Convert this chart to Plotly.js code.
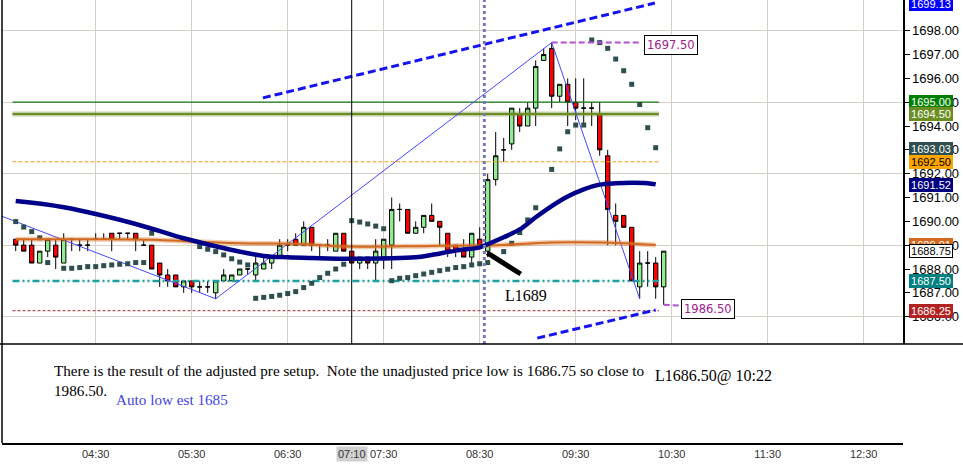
<!DOCTYPE html>
<html>
<head>
<meta charset="utf-8">
<script src="https://cdn.plot.ly/plotly-3.0.1.min.js"></script>
<style>html,body{margin:0;padding:0;background:#fff;}#chart{width:963px;height:469px;}</style>
</head>
<body>
<div id="chart"></div>
<script>
// ---------- data ----------
const DAY = '2013-06-10 ';
const barTimes = ['03:40','03:45','03:50','03:55','04:00','04:05','04:10','04:15','04:20','04:25',
  '04:30','04:35','04:40','04:45','04:50','04:55','05:00','05:05','05:10','05:15',
  '05:20','05:25','05:30','05:35','05:40','05:45','05:50','05:55','06:00','06:05',
  '06:10','06:15','06:20','06:25','06:30','06:35','06:40','06:45','06:50','06:55',
  '07:00','07:05','07:10','07:15','07:20','07:25','07:30','07:35','07:40','07:45',
  '07:50','07:55','08:00','08:05','08:10','08:15','08:20','08:25','08:30','08:35',
  '08:40','08:45','08:50','08:55','09:00','09:05','09:10','09:15','09:20','09:25',
  '09:30','09:35','09:40','09:45','09:50','09:55','10:00','10:05','10:10','10:15',
  '10:20','10:25'];
const openP = [1689.25,1689.0,1689.0,1688.25,1688.75,1689.0,1688.25,1689.25,1689.0,1689.0,
  1689.25,1689.25,1689.5,1689.5,1689.5,1689.5,1689.0,1689.0,1688.25,1687.75,
  1687.75,1687.25,1687.5,1687.25,1687.25,1687.0,1687.5,1687.5,1687.75,1688.0,
  1687.75,1688.0,1688.25,1688.5,1689.0,1689.25,1689.0,1689.75,1689.0,1689.0,
  1688.75,1689.5,1688.75,1688.25,1688.5,1688.25,1688.5,1689.0,1690.5,1690.5,
  1689.5,1689.75,1690.25,1690.0,1689.5,1689.0,1688.75,1688.5,1689.25,1688.75,
  1691.75,1693.0,1693.25,1694.5,1694.0,1694.75,1696.75,1697.25,1695.25,1695.75,
  1695.0,1694.75,1694.75,1694.5,1692.75,1690.25,1690.25,1689.75,1687.25,1688.25,
  1688.25,1687.25];
const highP = [1689.25,1689.25,1689.25,1688.75,1689.25,1689.25,1689.5,1689.25,1689.25,1689.25,
  1689.5,1689.5,1689.5,1689.5,1689.5,1689.5,1689.25,1689.0,1688.25,1688.0,
  1687.75,1687.5,1687.5,1687.5,1687.5,1687.5,1688.0,1687.75,1688.0,1688.0,
  1688.5,1688.5,1688.5,1689.25,1689.25,1689.5,1690.0,1689.75,1689.0,1689.25,
  1689.5,1689.5,1688.75,1688.5,1688.5,1689.25,1689.25,1691.0,1690.75,1690.5,
  1690.0,1690.25,1690.75,1690.0,1689.5,1689.0,1689.25,1689.5,1689.75,1692.0,
  1693.75,1693.5,1694.75,1694.75,1695.0,1696.75,1697.25,1697.5,1695.75,1696.0,
  1696.0,1696.0,1695.0,1695.0,1693.0,1690.75,1690.25,1689.75,1688.75,1688.75,
  1688.5,1688.75];
const lowP = [1688.75,1688.75,1688.25,1688.25,1688.5,1688.0,1688.25,1688.75,1688.75,1688.75,
  1689.25,1689.25,1688.75,1689.25,1689.25,1688.75,1689.0,1688.0,1687.25,1687.25,
  1687.25,1687.0,1687.0,1687.0,1687.0,1686.75,1687.5,1687.5,1687.75,1687.75,
  1687.5,1688.0,1688.0,1688.5,1688.75,1689.0,1689.0,1688.75,1688.5,1688.75,
  1688.75,1688.75,1688.25,1688.0,1688.0,1687.5,1688.0,1688.0,1690.0,1689.5,
  1689.5,1689.5,1690.0,1689.0,1688.5,1688.5,1688.5,1688.25,1689.0,1688.5,
  1691.5,1692.5,1693.0,1693.75,1694.0,1694.0,1696.75,1694.75,1695.0,1694.0,
  1694.25,1694.0,1694.0,1692.75,1689.0,1689.0,1689.75,1687.5,1686.75,1687.25,
  1686.75,1686.5];
const closeP = [1689.0,1688.75,1688.25,1688.75,1689.25,1688.5,1689.25,1689.25,1689.0,1689.0,
  1689.25,1689.25,1689.25,1689.5,1689.5,1689.25,1689.0,1688.0,1687.75,1687.5,
  1687.25,1687.5,1687.25,1687.25,1687.25,1687.5,1687.75,1687.75,1688.0,1688.0,
  1688.25,1688.25,1688.5,1689.0,1689.0,1689.0,1689.75,1689.0,1689.0,1689.0,
  1689.5,1688.75,1688.25,1688.5,1688.25,1688.75,1689.25,1690.5,1690.5,1689.5,
  1689.75,1690.25,1690.0,1689.75,1688.75,1688.75,1688.5,1689.5,1689.0,1691.75,
  1692.75,1693.0,1694.75,1694.0,1694.75,1696.5,1697.0,1695.25,1695.75,1695.0,
  1694.75,1694.75,1694.75,1693.0,1690.5,1690.0,1689.75,1687.5,1688.25,1688.25,
  1687.25,1688.75];
const sarP = [1689.99,1689.76,1689.57,1689.31,1688.27,null,1688.03,1688.03,1688.06,1688.10,
  1688.10,1688.14,1688.17,1688.20,1688.22,1688.27,1688.27,1689.50,null,null,
  null,null,null,1688.94,1688.83,1688.73,1688.59,1688.43,1688.29,1688.17,
  1686.77,1686.81,1686.85,1686.90,1686.97,1687.05,1687.22,1687.40,1687.64,1687.82,
  1688.00,1688.20,1690.03,1689.97,1689.89,1689.80,1689.69,1687.51,1687.61,1687.64,
  1687.72,1687.79,1687.86,1687.93,1687.99,1688.06,1688.10,1688.17,1688.22,1688.27,
  null,1688.73,1689.08,1689.53,1690.06,1690.57,null,1692.18,1693.04,1693.76,
  1694.04,1694.04,1697.61,1697.50,1697.26,1696.81,1696.32,1695.75,1694.90,1693.93,
  1693.09,null];

const navyTimes = ['03:40','04:10','04:55','05:25','05:55','06:15','06:30','06:45','07:10','07:50','08:00','08:15','08:30','08:35','08:45','08:55','09:05','09:15','09:25','09:35','09:45','09:55','10:05','10:15','10:20'];
const navyVals = [1690.85,1690.59,1689.89,1689.29,1688.80,1688.55,1688.49,1688.46,1688.43,1688.49,1688.59,1688.77,1688.91,1689.04,1689.33,1689.66,1690.17,1690.64,1691.04,1691.34,1691.54,1691.60,1691.62,1691.60,1691.55];
const orangeTimes = ['03:40','04:30','05:10','05:30','06:00','06:35','07:05','08:00','08:35','08:45','09:15','09:45','10:20'];
const orangeVals = [1689.25,1689.25,1689.22,1689.15,1689.08,1689.06,1688.94,1688.97,1688.99,1689.01,1689.11,1689.11,1689.01];

const zigTimes = ['03:30','05:45','09:15','10:10'];
const zigVals = [1690.25,1686.75,1697.5,1686.75];
const upperChTimes = ['06:14:30','10:19:30'];
const upperChVals = [1695.18,1699.16];
const lowerChTimes = ['09:06','10:20'];
const lowerChVals = [1685.10,1686.28];
const peakLineTimes = ['09:15','10:10'];
const peakLineVals = [1697.5,1697.5];
const lowLineTimes = ['10:25','10:35'];
const lowLineVals = [1686.5,1686.47];
const arrowTimes = ['08:34:45','08:55:38'];
const arrowVals = [1688.68,1687.79];

const levelTimes = ['03:38','10:22'];
const levelGreen = 1695.00, levelOlive = 1694.50, levelOrange = 1692.50, levelTeal = 1687.50, levelRed = 1686.25;

const hourTicks = ['04:30','05:30','06:30','07:30','08:30','09:30','10:30','11:30','12:30'];
const priceTicks = [1686,1687,1688,1689,1690,1691,1692,1693,1694,1695,1696,1697,1698];
const gridPrices = [1686,1689,1692,1695,1698];

const tagPrices = [1699.13,1695.00,1694.50,1693.03,1692.50,1691.52,1689.01,1688.75,1687.50,1686.25];
const tagBg = ['#0000FF','#008000','#6B8E23','#2F4F4F','#FFA500','#000080','#D2691E','#FFFFFF','#008080','#B22222'];
const tagFg = ['#FFFFFF','#FFFFFF','#FFFFFF','#FFFFFF','#000000','#FFFFFF','#FFFFFF','#000000','#FFFFFF','#FFFFFF'];

const crossTime = '07:10';
const sessionTime = '08:32:54';

// ---------- helpers ----------
const T = s => DAY + s;
const Ts = a => a.map(T);
const xRange = [T('03:31:26'), T('12:54:34')];
const tagPointerTime = T('12:57:10');
const yRange = [1684.853, 1699.288];
const W = 963, H = 469, ML = 2, MR = 60, MT = 0, MB = 26;
const PW = W - ML - MR, PH = H - MT - MB;
const paneSplit = 1 - 344 / PH;
const px = v => (v - ML) / PW;
const py = v => 1 - (v - MT) / PH;

function flat(times, v){ return times.map(() => v); }

const traces = [];
function line(xs, ys, color, width, dash, shape){
  traces.push({type:'scatter', mode:'lines', x:Ts(xs), y:ys,
    line:{color:color, width:width, dash:dash||'solid', shape:shape||'linear'}, hoverinfo:'skip', xaxis:'x', yaxis:'y'});
}

// level lines
line(levelTimes, flat(levelTimes, levelOlive), 'rgba(120,145,60,0.45)', 5);
line(levelTimes, flat(levelTimes, levelOlive), '#6B8E23', 2);
line(levelTimes, flat(levelTimes, levelGreen), '#187818', 1.2);
line(levelTimes, flat(levelTimes, levelOrange), '#F0A020', 1.2, '4px,2px');
line(levelTimes, flat(levelTimes, levelTeal), '#1E9E9E', 2.5, '7px,3px,2px,3px,2px,3px');
line(levelTimes, flat(levelTimes, levelRed), '#A52A2A', 1, '3px,2px');
// zigzag
line(zigTimes, zigVals, '#4646FF', 1);
// SAR
traces.push({type:'scatter', mode:'markers', x:Ts(barTimes), y:sarP,
  marker:{symbol:'square', size:5, color:'#2F4F4F'}, hoverinfo:'skip', xaxis:'x', yaxis:'y'});
// orange MA
line(orangeTimes, orangeVals, 'rgba(210,105,30,0.35)', 5, 'solid', 'spline');
line(orangeTimes, orangeVals, '#D2691E', 2, 'solid', 'spline');
// navy MA
line(navyTimes, navyVals, '#00008B', 4.5, 'solid', 'spline');
// candles
traces.push({type:'candlestick', x:Ts(barTimes), open:openP, high:highP, low:lowP, close:closeP,
  increasing:{line:{color:'#000000', width:1}, fillcolor:'#90EE90'},
  decreasing:{line:{color:'#000000', width:1}, fillcolor:'#FF0000'},
  whiskerwidth:0, hoverinfo:'skip', xaxis:'x', yaxis:'y'});
// channel lines
line(upperChTimes, upperChVals, '#1414F0', 3, '8px,4px');
line(lowerChTimes, lowerChVals, '#1414F0', 3, '8px,4px');
// purple lines
line(peakLineTimes, peakLineVals, '#B450D2', 2, '6px,3px');
line(lowLineTimes, lowLineVals, '#B450D2', 2, '6px,3px');
// black diagonal
line(arrowTimes, arrowVals, '#000000', 5);
// price-tag pointers (drawn outside the plot area, under the tag boxes)
traces.push({type:'scatter', mode:'markers', x:tagPrices.map(() => tagPointerTime), y:tagPrices, cliponaxis:false,
  marker:{symbol:'triangle-left', size:11, color:tagBg, line:{color:tagBg.map(c => c === '#FFFFFF' ? '#000000' : c), width:1}},
  hoverinfo:'skip', xaxis:'x', yaxis:'y'});
// axis helpers
traces.push({type:'scatter', x:[], y:[], xaxis:'x2', yaxis:'y2', hoverinfo:'skip'});
traces.push({type:'scatter', x:[], y:[], xaxis:'x', yaxis:'y3', hoverinfo:'skip'});

const annotations = [];
// price tags
tagPrices.forEach((p, i) => {
  annotations.push({xref:'paper', x:1, yref:'y', y:p, xanchor:'left', yanchor:'middle', xshift:6, text:p.toFixed(2), showarrow:false,
    bgcolor:tagBg[i], bordercolor:(tagBg[i] === '#FFFFFF' ? '#000000' : tagBg[i]), borderwidth:1, borderpad:0,
    width:42, font:{family:'Arial, Liberation Sans', size:11, color:tagFg[i]}});
});
// purple boxes
annotations.push({xref:'x', x:T('10:10'), yref:'y', y:1697.42, xanchor:'left', xshift:4, showarrow:false,
  text:peakLineVals[0].toFixed(2), bgcolor:'#FFFFFF', bordercolor:'#000000', borderwidth:1, borderpad:2,
  font:{family:'DejaVu Sans', size:11.5, color:'#A0208F'}});
annotations.push({xref:'x', x:T('10:35'), yref:'y', y:1686.32, xanchor:'left', xshift:1, showarrow:false,
  text:'1986.50', bgcolor:'#FFFFFF', bordercolor:'#000000', borderwidth:1, borderpad:2,
  font:{family:'DejaVu Sans', size:11.5, color:'#A0208F'}});
// L1689
annotations.push({xref:'x', x:T('08:59'), yref:'y', y:1686.87, showarrow:false, text:'L1689',
  font:{family:'Liberation Serif, Times New Roman, serif', size:16, color:'#000000'}});
// 07:10 time box
annotations.push({xref:'x', x:T(crossTime), yref:'paper', y:py(454), yanchor:'middle', showarrow:false, text:crossTime,
  bgcolor:'#D0D0D0', borderpad:1, font:{family:'Arial, Liberation Sans', size:11, color:'#333333'}});
// lower pane texts
annotations.push({xref:'paper', x:px(52), yref:'paper', y:py(380), xanchor:'left', yanchor:'middle', align:'left', showarrow:false,
  text:'There is the result of the adjusted pre setup.\u00a0 Note the unadjusted price low is 1686.75 so close to<br>1986.50.',
  font:{family:'Liberation Serif, Times New Roman, serif', size:15.2, color:'#000000'}});
annotations.push({xref:'paper', x:px(114), yref:'paper', y:py(399), xanchor:'left', yanchor:'middle', showarrow:false,
  text:'Auto low est 1685', font:{family:'Liberation Serif, Times New Roman, serif', size:15.2, color:'#4444DD'}});
annotations.push({xref:'paper', x:px(653), yref:'paper', y:py(376), xanchor:'left', yanchor:'middle', showarrow:false,
  text:'L1686.50@ 10:22', font:{family:'Liberation Serif, Times New Roman, serif', size:16, color:'#000000'}});

const shapes = [
  {type:'line', xref:'x', yref:'y domain', x0:T(crossTime), x1:T(crossTime), y0:0, y1:1, line:{color:'#000000', width:1}, layer:'above'},
  {type:'line', xref:'x', yref:'y domain', x0:T(sessionTime), x1:T(sessionTime), y0:0, y1:1, line:{color:'#7878B4', width:3, dash:'dot'}, layer:'above'},
  {type:'line', xref:'paper', yref:'paper', x0:px(0), x1:px(963), y0:paneSplit, y1:paneSplit, line:{color:'#000000', width:1.5}, layer:'above'},
  {type:'line', xref:'paper', yref:'paper', x0:0, x1:0, y0:0, y1:1, line:{color:'#000000', width:1.5}, layer:'above'}
];

const layout = {
  width:W, height:H, margin:{l:ML, r:MR, t:MT, b:MB, pad:0},
  paper_bgcolor:'#FFFFFF', plot_bgcolor:'#FFFFFF', showlegend:false, boxgap:0.22,
  font:{family:'Arial, Liberation Sans', size:11, color:'#000000'},
  xaxis:{type:'date', range:xRange, domain:[0,1], anchor:'y', tickmode:'array', tickvals:Ts(hourTicks),
    showticklabels:false, ticks:'', showgrid:true, gridcolor:'#D4D0C8', gridwidth:1, zeroline:false, showline:false,
    rangeslider:{visible:false}, fixedrange:true},
  xaxis2:{type:'date', range:xRange, domain:[0,1], anchor:'y2', tickmode:'array', tickvals:Ts(hourTicks), tickformat:'%H:%M',
    showgrid:false, showline:true, linecolor:'#000000', linewidth:1.5, ticks:'', zeroline:false,
    tickfont:{family:'Arial, Liberation Sans', size:11, color:'#333333'}, fixedrange:true},
  yaxis:{domain:[paneSplit,1], range:yRange, anchor:'x', tickmode:'array', tickvals:gridPrices, showticklabels:false,
    ticks:'', showgrid:true, gridcolor:'#D4D0C8', gridwidth:1, zeroline:false, showline:false, fixedrange:true},
  yaxis2:{domain:[0,paneSplit], range:[0,1], anchor:'x2', showgrid:false, showticklabels:false, ticks:'', zeroline:false, showline:false, fixedrange:true},
  yaxis3:{overlaying:'y', anchor:'x', side:'right', range:yRange, tickmode:'array', tickvals:priceTicks,
    ticktext:priceTicks.map(v => v.toFixed(2)), showgrid:false, ticks:'outside', ticklen:5, tickcolor:'#000000',
    showline:true, linecolor:'#000000', linewidth:1.5, zeroline:false,
    tickfont:{family:'Arial, Liberation Sans', size:13, color:'#000000'}, fixedrange:true},
  shapes:shapes, annotations:annotations
};

Plotly.newPlot('chart', traces, layout, {staticPlot:true, displayModeBar:false});
</script>
</body>
</html>
